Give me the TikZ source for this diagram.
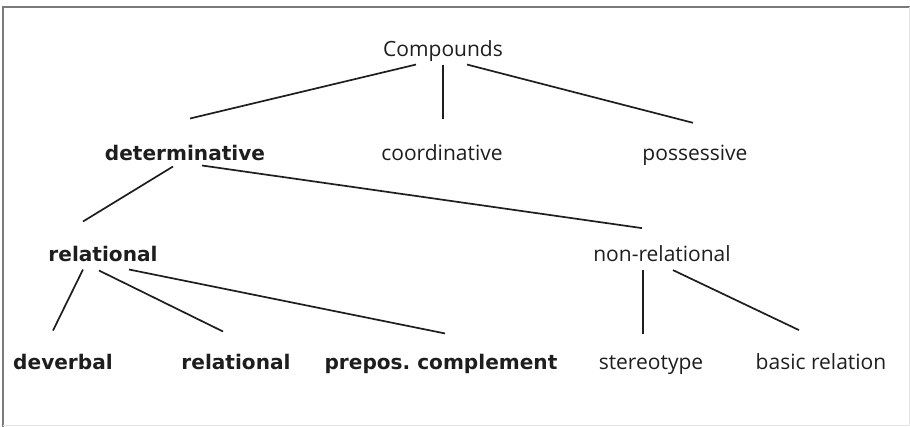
\documentclass[tikz,border=0pt]{standalone}
\usepackage{fontspec}
\usepackage{tikz}
\usetikzlibrary{calc}
\setmainfont{Open Sans}
\newfontfamily\heavyfont{DejaVu Sans}[BoldFont={DejaVu Sans Bold}]
\definecolor{inkgray}{HTML}{1E1E1E}
\definecolor{framegray}{HTML}{7A7A7A}
\frenchspacing

\begin{document}
\begin{tikzpicture}[
  x=1pt,y=-1pt,
  plain/.style={inner sep=0pt,anchor=base,text=inkgray,font=\fontsize{21}{24}\selectfont},
  heavy/.style={inner sep=0pt,anchor=base,text=inkgray,font=\heavyfont\bfseries\fontsize{20.1}{24}\selectfont},
  edge/.style={line width=1.7pt,inkgray}
]
  \useasboundingbox (0,0) rectangle (910,427);
  % frame
  \draw[framegray,line width=1.6pt] (3,427) -- (3,7) -- (910,7);
  \draw[gray!20,line width=1pt] (909,7) -- (909,425) -- (3,425);
  % nodes
  \node[plain] (cmp) at (443,57) {Compounds};
  \node[heavy] (det) at (185,161) {determinative};
  \node[plain] (coord) at (442,161) {coordinative};
  \node[plain] (poss) at (695,161) {possessive};
  \node[heavy] (rel) at (103,262) {relational};
  \node[plain] (nonrel) at (662,262) {non-relational};
  \node[heavy] (dev) at (63,370) {deverbal};
  \node[heavy] (relb) at (236,370) {relational};
  \node[heavy] (prep) at (441,370) {prepos. complement};
  \node[plain] (stereo) at (651,370) {stereotype};
  \node[plain] (basic) at (821,370) {basic relation};
  % connectors
  \draw[edge] ($(cmp)+(-27,13)$) -- ($(det)+(5,-35)$);
  \draw[edge] ($(cmp)+(0,13)$) -- ($(coord)+(1,-34)$);
  \draw[edge] ($(cmp)+(24,13)$) -- ($(poss)+(-2,-33)$);
  \draw[edge] ($(det)+(-12,13)$) -- ($(rel)+(-20,-33)$);
  \draw[edge] ($(det)+(17,12)$) -- ($(nonrel)+(-20,-26)$);
  \draw[edge] ($(rel)+(-20,15)$) -- ($(dev)+(-10,-32)$);
  \draw[edge] ($(rel)+(-4,16)$) -- ($(relb)+(-13,-31)$);
  \draw[edge] ($(rel)+(26,15)$) -- ($(prep)+(4,-31)$);
  \draw[edge] ($(nonrel)+(-19,16)$) -- ($(stereo)+(-8,-32)$);
  \draw[edge] ($(nonrel)+(11,16)$) -- ($(basic)+(-22,-32)$);
\end{tikzpicture}
\end{document}
